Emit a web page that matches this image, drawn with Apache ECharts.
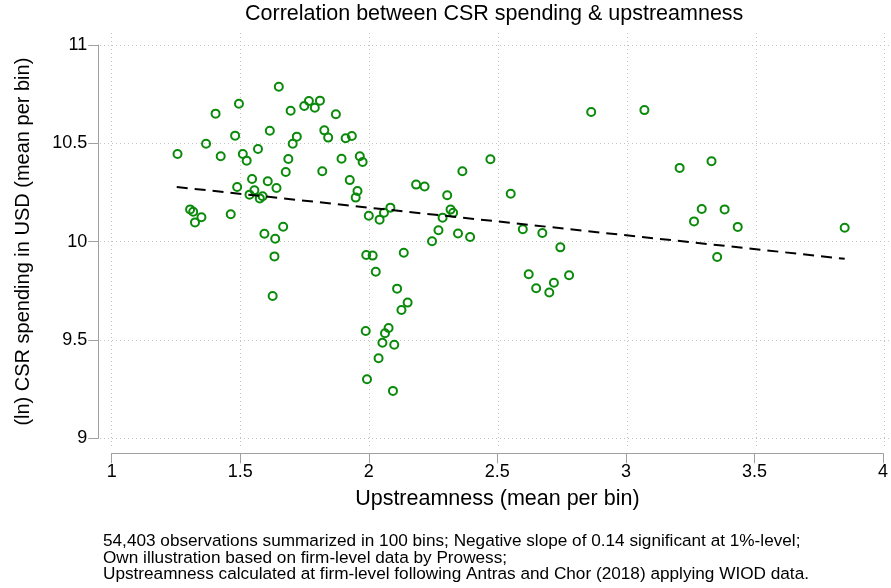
<!DOCTYPE html>
<html><head><meta charset="utf-8">
<script src="https://cdn.jsdelivr.net/npm/echarts@6/dist/echarts.min.js"></script>
<style>html,body{margin:0;padding:0;background:#fff}#c{width:891px;height:588px}</style>
</head><body><div id="c"></div>
<script>
// Binned scatter: upstreamness (x) vs (ln) CSR spending (y), 100 bins
const upstreamness = [
  1.256,1.404,1.495,1.650,1.696,1.615,1.480,1.367,1.720,1.704,
  1.424,1.510,1.525,1.569,1.687,1.677,1.546,1.488,1.607,1.641,
  1.555,1.536,1.576,1.587,1.305,1.317,1.349,1.324,1.463,1.667,
  1.594,1.636,1.749,1.767,1.790,1.810,1.872,1.827,1.842,1.910,
  1.934,1.894,1.965,1.976,1.819,1.926,1.956,1.949,2.000,2.042,
  2.059,2.084,2.184,2.217,2.364,2.473,2.305,2.318,2.328,2.287,
  2.271,2.347,2.394,2.246,2.865,3.072,3.209,2.552,2.599,2.675,
  3.265,3.295,3.333,3.384,3.435,3.851,1.633,1.626,1.990,2.015,
  2.136,2.027,2.110,2.151,2.127,1.988,2.077,2.063,2.053,2.099,
  2.038,1.993,2.094,2.745,2.622,2.779,2.720,2.651,2.702,3.355
];
const csrSpending = [
  10.446,10.651,10.701,10.788,10.666,10.564,10.539,10.498,10.534,10.498,
  10.434,10.446,10.412,10.471,10.420,10.354,10.319,10.278,10.307,10.273,
  10.261,10.239,10.220,10.231,10.164,10.152,10.124,10.098,10.139,10.076,
  10.040,10.015,10.690,10.715,10.681,10.717,10.648,10.566,10.529,10.526,
  10.537,10.422,10.434,10.405,10.358,10.313,10.258,10.224,10.132,10.112,
  10.147,10.173,10.290,10.280,10.358,10.419,10.236,10.163,10.147,10.122,
  10.058,10.041,10.024,10.002,10.659,10.669,10.375,10.244,10.063,10.044,
  10.103,10.166,10.409,10.164,10.075,10.071,9.925,9.724,9.932,9.929,
  9.944,9.847,9.761,9.690,9.652,9.546,9.561,9.534,9.486,9.476,
  9.407,9.300,9.241,9.971,9.834,9.829,9.791,9.763,9.741,9.922
];
// Linear fit endpoints
const fitX = [1.253, 3.851];
const fitY = [10.278, 9.913];
// Tick values
const xTicks = [1, 1.5, 2, 2.5, 3, 3.5, 4];
const yTicks = [9, 9.5, 10, 10.5, 11];
const titleText = 'Correlation between CSR spending & upstreamness';
const xTitle = 'Upstreamness (mean per bin)';
const yTitle = '(ln) CSR spending in USD (mean per bin)';
const notes = [
  '54,403 observations summarized in 100 bins; Negative slope of 0.14 significant at 1%-level;',
  'Own illustration based on firm-level data by Prowess;',
  'Upstreamness calculated at firm-level following Antras and Chor (2018) applying WIOD data.'
];

const FONT = '"Liberation Sans", Arial, Helvetica, sans-serif';
const AX = '#a0a0a0';
const chart = echarts.init(document.getElementById('c'), null, {renderer: 'canvas'});
chart.setOption({
  animation: false,
  backgroundColor: '#fff',
  textStyle: {fontFamily: FONT},
  title: [
    {text: titleText, left: 245, top: 3, padding: 0,
     textStyle: {fontSize: 21.5, fontWeight: 'normal', color: '#000', fontFamily: FONT}},
    {text: notes.join('\n'), left: 103, top: 533, padding: 0,
     textStyle: {fontSize: 17.2, lineHeight: 16.6, fontWeight: 'normal', color: '#000', fontFamily: FONT}}
  ],
  grid: [
    {left: 111.7, right: 6.3, top: 45, bottom: 149.7},
    {left: 100, right: 1, top: 33, bottom: 140}
  ],
  xAxis: [
    {gridIndex: 0, type: 'value', min: 1, max: 4, interval: 0.5, offset: 15,
     axisLine: {show: true, lineStyle: {color: AX, width: 1}},
     axisTick: {show: true, length: 10, lineStyle: {color: AX, width: 1}},
     axisLabel: {fontSize: 18, color: '#000', margin: 10, fontFamily: FONT},
     splitLine: {show: false},
     name: xTitle, nameLocation: 'middle', nameGap: 35,
     nameTextStyle: {fontSize: 21.5, color: '#000', fontFamily: FONT}},
    {gridIndex: 1, type: 'value', min: 0.9546, max: 4.0206,
     axisLine: {show: false},
     axisTick: {show: false, customValues: xTicks},
     axisLabel: {show: false, customValues: xTicks},
     splitLine: {show: true, lineStyle: {color: '#c4c4c4', width: 1, type: [1, 3]}}}
  ],
  yAxis: [
    {gridIndex: 0, type: 'value', min: 9, max: 11, interval: 0.5, offset: 13.4,
     axisLine: {show: true, lineStyle: {color: AX, width: 1}},
     axisTick: {show: true, length: 10, lineStyle: {color: AX, width: 1}},
     axisLabel: {fontSize: 18, color: '#000', margin: 11, fontFamily: FONT},
     splitLine: {show: false},
     name: yTitle, nameLocation: 'middle', nameGap: 65, nameRotate: 90,
     nameTextStyle: {fontSize: 20, color: '#000', fontFamily: FONT}},
    {gridIndex: 1, type: 'value', min: 8.951, max: 11.061,
     axisLine: {show: false},
     axisTick: {show: false, customValues: yTicks},
     axisLabel: {show: false, customValues: yTicks},
     splitLine: {show: true, lineStyle: {color: '#c4c4c4', width: 1, type: [1, 3]}}}
  ],
  series: [
    {type: 'scatter', xAxisIndex: 0, yAxisIndex: 0, z: 3,
     data: upstreamness.map((x, i) => [x, csrSpending[i]]),
     symbol: 'circle', symbolSize: 8,
     itemStyle: {color: 'rgba(0,0,0,0)', borderColor: '#0a8a0a', borderWidth: 2, opacity: 1}},
    {type: 'line', xAxisIndex: 0, yAxisIndex: 0, z: 4,
     data: fitX.map((x, i) => [x, fitY[i]]),
     symbol: 'none', silent: true,
     lineStyle: {color: '#000', width: 2, type: [11, 7]}}
  ]
});
</script>
</body></html>
